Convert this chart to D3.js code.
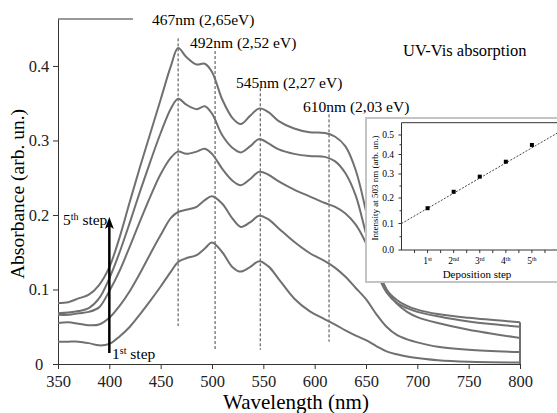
<!DOCTYPE html>
<html lang="en">
<head>
    <meta charset="UTF-8">
    <title>UV-Vis absorption</title>
    <script src="https://d3js.org/d3.v7.min.js"></script>
    <style>
        body { margin: 0; background: #fff; }
        svg { display: block; }
        .axis path, .axis line { stroke: #333; }
    </style>
</head>
<body>
<div id="chart"></div>
<script>
    const FONT = "'Liberation Serif', 'DejaVu Serif', serif";

    // Wavelength grid (nm) shared by all spectra
    const wavelengths = [350, 360, 370, 380, 390, 400, 410, 420, 430, 440, 450, 460, 467, 475, 485, 493, 500,
        510, 520, 528, 537, 546, 555, 565, 580, 595, 610, 620, 630, 640, 650, 660, 670, 680, 690, 700, 720, 750, 800];

    // Absorbance after each deposition step
    const step1 = [.030, .030, .030, .028, .025, .027, .037, .050, .067, .085, .104, .124, .137, .142, .146, .155, .163,
        .150, .130, .124, .130, .138, .131, .114, .088, .071, .060, .053, .045, .038, .032, .024, .017, .013, .010, .008, .005, .003, .002];
    const step2 = [.055, .056, .054, .052, .053, .062, .078, .098, .122, .148, .173, .196, .204, .207, .211, .220, .225,
        .215, .195, .184, .190, .199, .194, .182, .164, .149, .138, .129, .117, .102, .087, .067, .050, .039, .033, .029, .023, .019, .016];
    const step3 = [.066, .066, .068, .070, .076, .098, .125, .158, .192, .225, .255, .277, .285, .282, .285, .289, .282,
        .262, .246, .240, .248, .258, .254, .245, .234, .225, .216, .211, .202, .187, .162, .127, .100, .081, .070, .063, .055, .046, .035];
    const step4 = [.068, .069, .071, .075, .088, .115, .150, .190, .232, .272, .310, .343, .356, .348, .342, .346, .336,
        .307, .290, .284, .292, .302, .296, .288, .282, .279, .278, .272, .256, .226, .175, .126, .096, .082, .075, .070, .064, .057, .050];
    const step5 = [.082, .083, .088, .093, .106, .130, .170, .218, .265, .310, .355, .400, .424, .412, .402, .403, .392,
        .355, .330, .322, .333, .343, .338, .326, .316, .311, .310, .305, .292, .260, .205, .140, .100, .086, .078, .073, .067, .062, .056];
    const spectra = [step1, step2, step3, step4, step5];

    const xTicks = [350, 400, 450, 500, 550, 600, 650, 700, 750, 800];
    const yTicks = [0, 0.1, 0.2, 0.3, 0.4];

    // Peak markers: wavelength, top / bottom of dashed line, label
    const peakLines = [467, 503, 547, 614];
    const peakTop = [0.437, 0.42, 0.37, 0.335];
    const peakBottom = [0.051, 0.019, 0.019, 0.03];
    const peakLabels = ["467nm (2,65eV)", "492nm (2,52 eV)", "545nm (2,27 eV)", "610nm (2,03 eV)"];

    // Inset: intensity at 503 nm vs deposition step
    const steps = [1, 2, 3, 4, 5];
    const stepNames = [["1", "st"], ["2", "nd"], ["3", "rd"], ["4", "th"], ["5", "th"]];
    const intensity = [0.160, 0.226, 0.289, 0.363, 0.449];
    const fitLine = [[0, 0.1], [6, 0.512]];
    const insetYTicks = [0, 0.1, 0.2, 0.3, 0.4, 0.5];

    const width = 557, height = 413;
    const svg = d3.select("#chart").append("svg")
        .attr("width", width)
        .attr("height", height)
        .attr("font-family", FONT);

    const x = d3.scaleLinear().domain([350, 800]).range([58, 520]);
    const y = d3.scaleLinear().domain([0, 0.463]).range([364, 19]);

    // Axes
    svg.append("g")
        .attr("class", "axis")
        .attr("transform", `translate(0,${y(0)})`)
        .call(d3.axisBottom(x).tickValues(xTicks).tickSize(5).tickSizeOuter(0).tickPadding(6))
        .call(g => g.attr("font-family", FONT).attr("font-size", 16.5))
        .call(g => g.selectAll("text").attr("fill", "#222"));

    svg.append("g")
        .attr("class", "axis")
        .attr("transform", `translate(${x(350)},0)`)
        .call(d3.axisLeft(y).tickValues(yTicks).tickSize(5).tickSizeOuter(0)
            .tickFormat(d => d === 0 ? "0" : d3.format(".1f")(d)))
        .call(g => g.attr("font-family", FONT).attr("font-size", 16.5))
        .call(g => g.selectAll("text")
            .attr("fill", "#222")
            .attr("text-anchor", "middle")
            .attr("x", -19));

    // short top frame piece
    svg.append("line")
        .attr("x1", x(350)).attr("x2", x(423))
        .attr("y1", y(0.463)).attr("y2", y(0.463))
        .attr("stroke", "#333");

    // Axis titles
    svg.append("text")
        .attr("transform", "translate(17,194) rotate(-90)")
        .attr("text-anchor", "middle")
        .attr("dy", "0.35em")
        .attr("font-size", 19.5)
        .text("Absorbance (arb. un.)");

    svg.append("text")
        .attr("x", 296).attr("y", 409)
        .attr("text-anchor", "middle")
        .attr("font-size", 21)
        .text("Wavelength (nm)");

    // Dashed peak lines
    svg.selectAll(".peak")
        .data(peakLines)
        .join("line")
        .attr("class", "peak")
        .attr("x1", d => x(d)).attr("x2", d => x(d))
        .attr("y1", (d, i) => y(peakTop[i]))
        .attr("y2", (d, i) => y(peakBottom[i]))
        .attr("stroke", "#444")
        .attr("stroke-width", 1)
        .attr("stroke-dasharray", "3,2");

    // Spectra
    const line = d3.line()
        .x((d, i) => x(wavelengths[i]))
        .y(d => y(d))
        .curve(d3.curveCatmullRom);

    svg.selectAll(".spectrum")
        .data(spectra)
        .join("path")
        .attr("class", "spectrum")
        .attr("d", line)
        .attr("fill", "none")
        .attr("stroke", "#707070")
        .attr("stroke-width", 2);

    // closing line at 800 nm
    svg.append("line")
        .attr("x1", x(800)).attr("x2", x(800))
        .attr("y1", y(0)).attr("y2", y(d3.max(spectra, s => s[s.length - 1])))
        .attr("stroke", "#707070")
        .attr("stroke-width", 2);

    // Peak labels
    const labelPos = [[152, 25], [190, 48], [236, 88], [303, 112]];
    svg.selectAll(".plabel")
        .data(peakLabels)
        .join("text")
        .attr("class", "plabel")
        .attr("x", (d, i) => labelPos[i][0])
        .attr("y", (d, i) => labelPos[i][1])
        .attr("font-size", 15.5)
        .text(d => d);

    svg.append("text")
        .attr("x", 403).attr("y", 56)
        .attr("font-size", 16.5)
        .text("UV-Vis absorption");

    // Arrow from 1st to 5th step
    const ax = x(400);
    svg.append("line")
        .attr("x1", ax).attr("x2", ax)
        .attr("y1", 353).attr("y2", 226)
        .attr("stroke", "#000")
        .attr("stroke-width", 2.5);
    svg.append("path")
        .attr("d", `M${ax},217 L${ax + 4.5},229 L${ax},226 L${ax - 4.5},229 Z`)
        .attr("fill", "#000");

    const sup = (sel, base, s) => {
        sel.append("tspan").text(base);
        sel.append("tspan").attr("dy", -5).attr("font-size", 10).text(s);
        sel.append("tspan").attr("dy", 5).text(" step");
    };
    svg.append("text").attr("x", 63).attr("y", 225).attr("font-size", 15.5)
        .call(sup, "5", "th");
    svg.append("text").attr("x", 112).attr("y", 359).attr("font-size", 15.5)
        .call(sup, "1", "st");

    // ---- Inset ----
    svg.append("rect")
        .attr("x", 366).attr("y", 118)
        .attr("width", 200).attr("height", 164)
        .attr("fill", "#fff")
        .attr("stroke", "#c4c4c4")
        .attr("stroke-width", 2);

    const ix = d3.scaleLinear().domain([0, 6]).range([401.5, 558]);
    const iy = d3.scaleLinear().domain(insetYTicks).range([250, 223.5, 198, 174, 154.5, 135]);
    const iyTop = 122.7;

    const inset = svg.append("g");
    inset.append("path")
        .attr("d", `M${ix(0)},${iy(0)}V${iyTop}H${ix(6)}`)
        .attr("fill", "none").attr("stroke", "#333");
    inset.append("line")
        .attr("x1", ix(0)).attr("x2", ix(6))
        .attr("y1", iy(0)).attr("y2", iy(0))
        .attr("stroke", "#333");

    // y ticks (major + minor)
    const iyMinor = d3.range(0.05, 0.5, 0.1);
    inset.selectAll(".iyt")
        .data(insetYTicks.concat(iyMinor))
        .join("line")
        .attr("x1", (d, i) => ix(0) - (i < insetYTicks.length ? 3 : 2)).attr("x2", ix(0))
        .attr("y1", d => iy(d)).attr("y2", d => iy(d))
        .attr("stroke", "#333");
    inset.selectAll(".iyl")
        .data(insetYTicks)
        .join("text")
        .attr("x", 394).attr("y", d => iy(d))
        .attr("dy", "0.35em")
        .attr("text-anchor", "end")
        .attr("font-size", 9.5)
        .text(d => d3.format(".1f")(d));

    // x ticks
    inset.selectAll(".ixt")
        .data(d3.range(0.5, 6, 0.5))
        .join("line")
        .attr("x1", d => ix(d)).attr("x2", d => ix(d))
        .attr("y1", iy(0)).attr("y2", iy(0) + 3)
        .attr("stroke", "#333");
    inset.selectAll(".ixl")
        .data(steps)
        .join("text")
        .attr("x", d => ix(d)).attr("y", 264)
        .attr("text-anchor", "middle")
        .attr("font-size", 9.5)
        .each(function (d, i) {
            const t = d3.select(this);
            t.append("tspan").text(stepNames[i][0]);
            t.append("tspan").attr("dy", -3.5).attr("font-size", 6).text(stepNames[i][1]);
        });

    inset.append("text")
        .attr("x", 477).attr("y", 277.5)
        .attr("text-anchor", "middle")
        .attr("font-size", 11)
        .text("Deposition step");

    inset.append("text")
        .attr("transform", `translate(375,188) rotate(-90)`)
        .attr("text-anchor", "middle")
        .attr("dy", "0.35em")
        .attr("font-size", 9)
        .text("Intensity at 503 nm (arb. un.)");

    // fit line and points
    inset.append("path")
        .attr("d", d3.line().x(d => ix(d[0])).y(d => iy(d[1]))(fitLine))
        .attr("stroke", "#444")
        .attr("stroke-dasharray", "2,1.5")
        .attr("fill", "none");

    inset.selectAll(".pt")
        .data(steps)
        .join("rect")
        .attr("x", d => ix(d) - 2).attr("y", (d, i) => iy(intensity[i]) - 2)
        .attr("width", 4).attr("height", 4)
        .attr("fill", "#000");
</script>
</body>
</html>
